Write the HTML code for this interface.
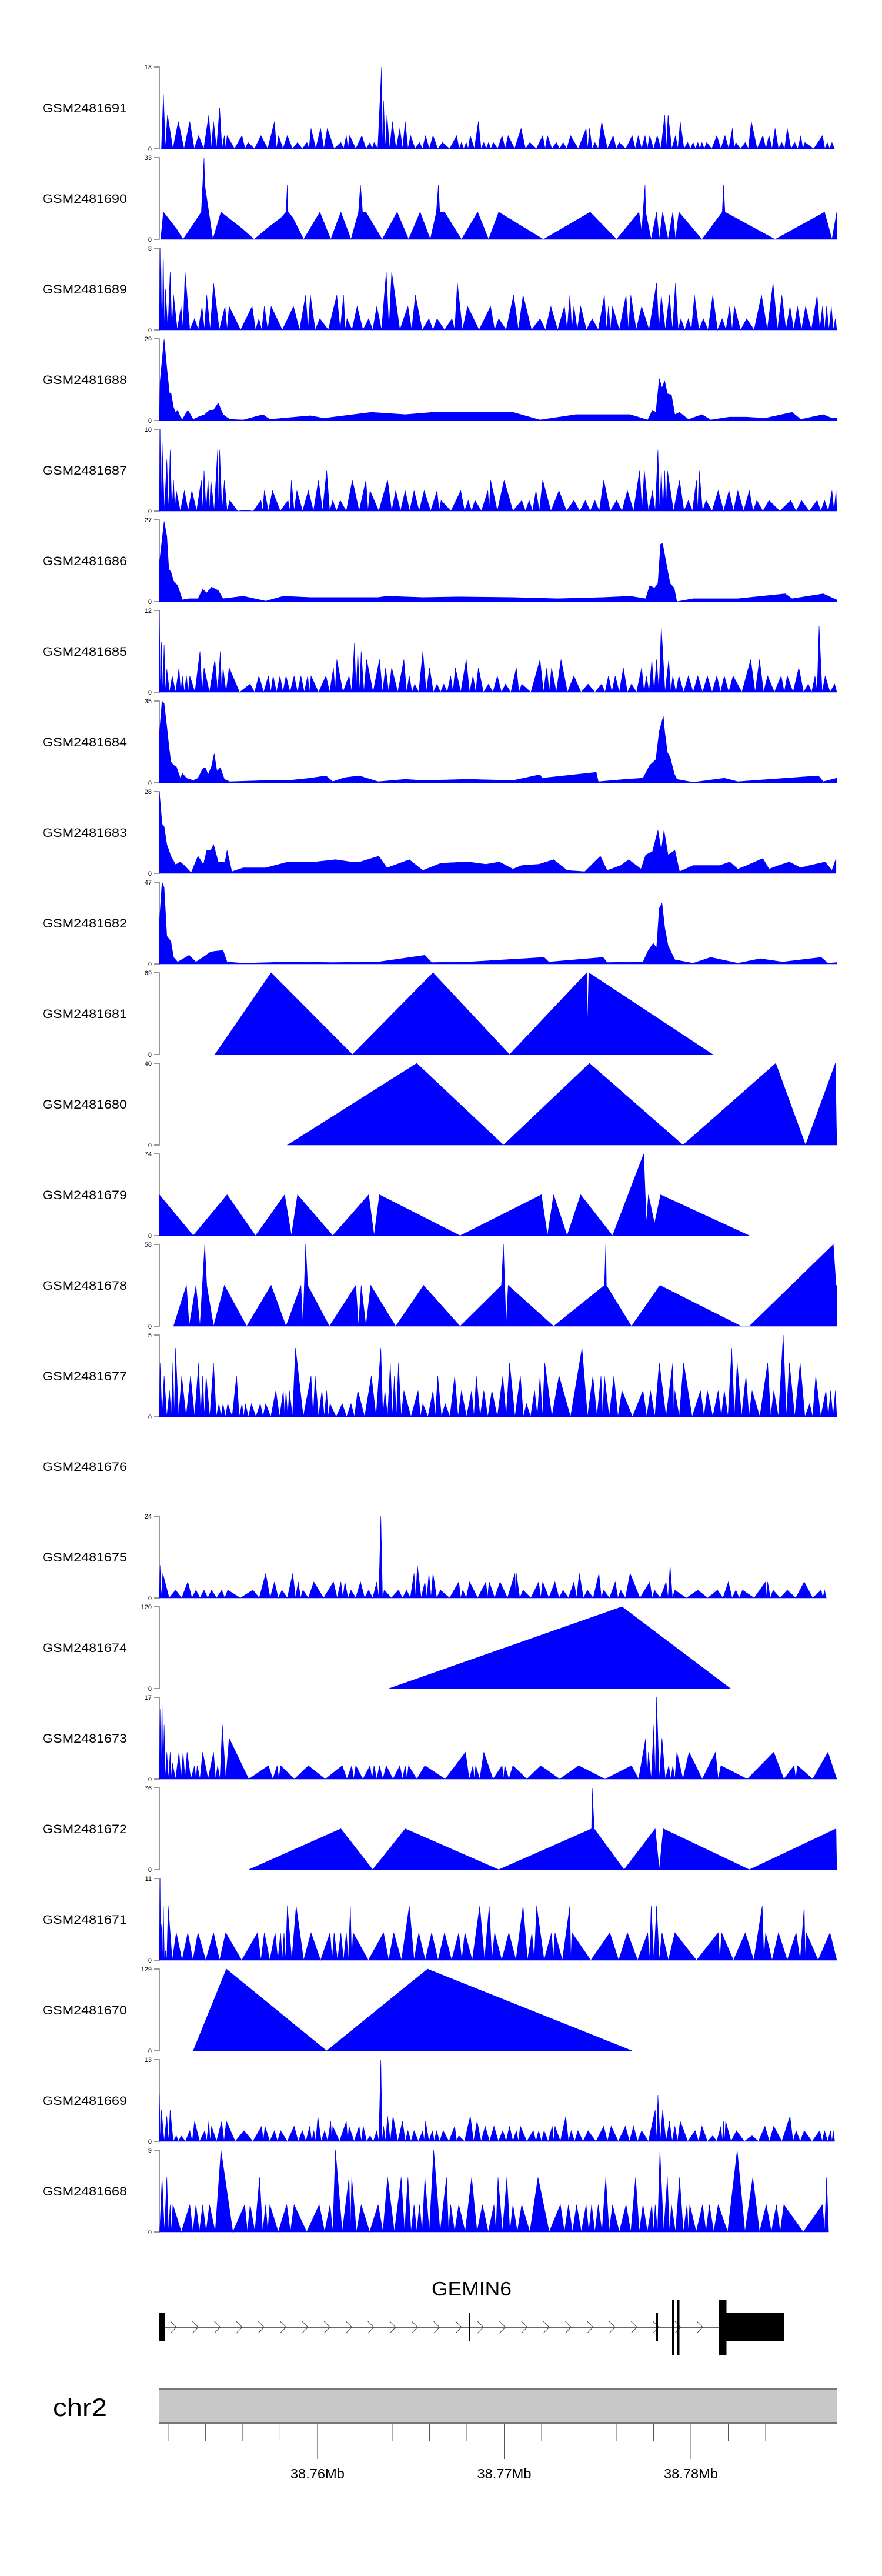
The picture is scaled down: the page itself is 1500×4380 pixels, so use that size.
<!DOCTYPE html>
<html><head><meta charset="utf-8">
<style>
html,body{margin:0;padding:0;background:#fff;}
svg{display:block;font-family:"Liberation Sans",sans-serif;}
</style></head>
<body>
<svg id="chart" width="1500" height="4380" viewBox="0 0 1500 4380" xmlns="http://www.w3.org/2000/svg">
<g id="tracks"></g>
<g id="gene">
  <text x="802" y="3903" text-anchor="middle" font-size="33" textLength="136" lengthAdjust="spacingAndGlyphs">GEMIN6</text>
  <line x1="276" y1="3957" x2="1225" y2="3957" stroke="#333" stroke-width="1.5"/>
  <g id="chevrons"></g>
  <rect x="271" y="3933" width="10" height="48" fill="#000"/>
  <rect x="797" y="3933" width="2.5" height="48" fill="#000"/>
  <rect x="1115" y="3933" width="4" height="48" fill="#000"/>
  <rect x="1143" y="3910" width="3.5" height="94" fill="#000"/>
  <rect x="1152" y="3910" width="3.5" height="94" fill="#000"/>
  <rect x="1223" y="3910" width="12.5" height="94" fill="#000"/>
  <rect x="1235" y="3933" width="99" height="48" fill="#000"/>
</g>
<g id="axis">
  <text x="90" y="4108" font-size="43" textLength="92" lengthAdjust="spacingAndGlyphs">chr2</text>
  <rect x="271" y="4062" width="1152" height="58" fill="#c8c8c8"/>
  <line x1="271" y1="4062" x2="1423" y2="4062" stroke="#777" stroke-width="2"/>
  <line x1="271" y1="4120" x2="1423" y2="4120" stroke="#777" stroke-width="2"/>
  <g id="xticks"></g>
</g>
</svg>
<script>
const NS = "http://www.w3.org/2000/svg";
const trackNames = ["GSM2481691","GSM2481690","GSM2481689","GSM2481688","GSM2481687","GSM2481686","GSM2481685","GSM2481684","GSM2481683","GSM2481682","GSM2481681","GSM2481680","GSM2481679","GSM2481678","GSM2481677","GSM2481676","GSM2481675","GSM2481674","GSM2481673","GSM2481672","GSM2481671","GSM2481670","GSM2481669","GSM2481668"];
const trackMax = [18,33,8,29,10,27,12,35,28,47,69,40,74,58,5,null,24,120,17,76,11,129,13,9];
const trackMode = ["spike","line","spike","line","spike","line","spike","line","line","line","line","line","line","line","spike","none","spike","line","spike","line","spike","line","spike","spike"];
// each series: [window position (% of 38.7515-38.7878 Mb), signal value]
const s1691 = [[0.6,12.1],[1.2,7.5],[2.8,6],[4.5,6],[5.8,2.9],[7.3,7.5],[8,6],[8.9,9],[9.6,2.9],[10,2.9],[12.2,2.9],[13.1,1.4],[15,2.9],[17,6],[17.6,2.9],[18.9,2.9],[20.4,1.4],[21.8,1.4],[22.4,4.5],[23.8,4.5],[24.8,4.5],[26.8,1.4],[27.6,2.9],[28.1,2.9],[29.9,2.9],[31.1,1.4],[31.7,1.4],[32.8,18],[33.1,10.5],[33.6,7.5],[34.4,6],[35.5,4.5],[36.3,6],[37.1,2.9],[38.4,1.4],[39.3,2.9],[40.4,2.9],[41.8,1.4],[43.9,2.9],[44.6,1.4],[45.3,1.4],[45.9,2.9],[47.1,6],[47.9,1.4],[48.6,1.4],[49.3,1.4],[50.6,2.9],[51.5,2.9],[53.4,4.5],[54.7,1.4],[56.6,2.9],[57.3,2.9],[58.6,1.4],[59.6,1.4],[60.7,2.9],[63,4.5],[63.5,4.5],[64.3,1.4],[65.3,6],[67,2.9],[67.9,1.4],[69.8,2.9],[70.7,2.9],[71.7,2.9],[72.4,2.9],[73.5,2.9],[74.6,7.5],[75.1,7.5],[76.2,2.9],[76.9,6],[78,1.4],[78.8,1.4],[79.5,1.4],[80.1,1.4],[80.8,1.4],[82.3,2.9],[83.5,2.9],[84.6,4.5],[85.1,1.4],[86.5,1.4],[87.4,6],[89.1,2.9],[90,2.9],[90.9,4.5],[91.9,1.4],[92.7,4.5],[93.8,1.4],[94.7,2.9],[95.3,1.4],[97.9,2.9],[98.6,1.4],[99.3,1.4]];
const s1690 = [[0.2,0],[0.6,11],[2.5,4.4],[3.5,0],[4.3,3.2],[6.2,11],[6.6,33],[6.7,22],[7.9,0],[9.1,11],[10.1,8.8],[12.2,4.4],[14,0],[15.9,4.4],[18,8.8],[18.7,11],[18.9,22],[19,11],[19.7,8.8],[21.3,0],[23.7,11],[25.3,0],[26.8,11],[28.3,0],[29.4,11],[29.7,22],[30,11],[30.5,11],[32.9,0],[35.1,11],[36.8,0],[38.5,11],[40,0],[40.9,11],[41.2,22],[41.4,11],[42.1,11],[44.6,0],[47,11],[48.6,0],[50.1,11],[56.7,0],[63.6,11],[67.5,0],[70.8,11],[71.2,3.2],[71.7,22],[71.8,11],[72.6,0],[73.4,11],[73.8,0],[74.3,11],[75.1,0],[75.8,11],[76.2,0],[76.7,11],[80.1,0],[83.1,11],[83.3,22],[83.5,11],[90.9,0],[98.2,11],[99.3,0],[100,11]];
const s1689 = [[0.1,8],[0.4,7.9],[0.6,6.9],[0.9,4],[1.6,5.7],[2.1,3.4],[3.2,2.3],[3.8,5.7],[5.2,1.1],[6.3,2.3],[7,3.4],[8,4.6],[9.7,2.3],[10.3,2.3],[13.7,2.3],[14.7,1.1],[15.5,2.3],[16.5,2.3],[19.8,2.3],[21.6,3.4],[22.3,3.4],[23.7,1.1],[26.2,3.4],[27.2,3.4],[27.7,1.1],[29.2,2.3],[30.9,1.1],[32.1,2.3],[33.5,5.7],[34.3,5.7],[36.7,2.3],[37.8,3.4],[39.8,1.1],[41,1.1],[43.2,1.1],[44,4.6],[45.5,2.3],[48.9,2.3],[50.1,1.1],[52.3,3.4],[53.7,3.4],[56.2,1.1],[57.8,2.3],[59.8,2.3],[60.6,3.4],[61.2,2.3],[62.2,2.3],[63.9,1.1],[65.7,3.4],[66.3,2.3],[66.9,2.3],[68.9,3.4],[69.6,3.4],[71.2,2.3],[73.4,4.6],[74.1,3.4],[75.3,3.4],[76.2,4.6],[77,1.1],[78.1,1.1],[79,3.4],[80.3,1.1],[81.7,3.4],[83.1,1.1],[84.2,2.3],[84.9,2.3],[86.7,1.1],[88.9,3.4],[90.6,4.6],[91.9,3.4],[93.1,2.3],[94.2,2.3],[95.4,2.3],[97.1,3.4],[97.9,2.3],[98.5,2.3],[99.2,2.3],[99.8,1.1]];
const s1688 = [[0,0],[0.1,13.7],[0.7,29],[1.1,18.6],[1.5,9.5],[1.7,9.9],[2.1,4.6],[2.4,2.9],[2.7,3.7],[3.1,1.2],[3.4,0.4],[4.2,3.7],[5,0.4],[5.7,1.2],[6.7,2.1],[7.4,3.7],[8,3.7],[8.7,6.2],[9.4,2.1],[10.4,0.4],[12.4,0.2],[15.3,2.1],[16.3,0.4],[22.3,1.7],[24.3,0.8],[31.3,2.9],[36.3,2.1],[40.4,2.9],[52.2,2.9],[56.2,0.2],[61.5,2.1],[65.5,2.1],[69.5,2.1],[72.1,0.2],[72.8,3.7],[73.3,2.9],[73.8,14.9],[74.2,11.6],[74.6,14.1],[75,9.5],[75.6,9.1],[76.1,2.1],[76.8,2.9],[78.1,0.4],[80.1,2.1],[81.4,0.2],[84.1,1.2],[86.7,1.2],[89.4,0.8],[93.4,2.9],[94.7,0.4],[98,2.1],[99.3,0.8],[100,0.8]];
const s1687 = [[0.1,10],[0.4,8.8],[1.1,6.3],[1.6,7.5],[2.1,3.8],[2.5,2.5],[3.7,2.5],[4.8,2.5],[6.2,3.8],[6.6,5],[7.2,3.8],[7.6,3.8],[8.6,7.5],[8.9,7.5],[9.6,3.8],[10.4,1.3],[12.7,0.1],[15,1.3],[15.5,2.5],[16.7,2.5],[19,1.3],[19.5,3.8],[20.3,2.5],[22,2.5],[23.5,3.8],[24.7,5],[25.6,1.3],[26.7,1.3],[28.5,3.8],[30.5,3.8],[31.1,2.5],[33.7,3.8],[34.9,2.5],[36.3,2.5],[37.6,2.5],[39.1,2.5],[41,2.5],[41.6,1.3],[44.5,2.5],[45.6,1.3],[46.6,1.3],[48.5,2.5],[48.9,3.8],[50.9,3.8],[53.5,1.3],[54.6,1.3],[55.6,2.5],[56.6,3.8],[59,2.5],[61.2,1.3],[62.9,1.3],[64.3,1.3],[65.6,3.8],[67.5,1.3],[69.1,2.5],[70.9,5],[71.6,5],[72.8,2.5],[73.6,7.5],[74.1,5],[74.6,5],[75,5],[76.8,3.8],[78.1,1.3],[79.3,3.8],[79.7,5],[80.7,1.3],[82.5,2.5],[84.1,2.5],[85.4,2.5],[87.1,2.5],[88.2,1.3],[90,1.3],[93.2,1.3],[94.8,1.3],[97.1,1.3],[98.2,1.3],[99.3,2.5],[99.9,2.5]];
const s1686 = [[0,12.7],[0.4,20.4],[0.7,26.5],[1.1,21.6],[1.4,10.7],[1.7,9.9],[2.1,6.8],[2.7,5.3],[3.4,0.6],[4.4,1],[5.7,1],[6.4,4.1],[7,2.9],[7.7,4.8],[8.7,3.7],[9.4,1],[12.4,1.8],[15.7,0.2],[18.3,1.8],[22.3,1.4],[32.3,1.4],[33.6,1.8],[38.9,1.4],[44.2,1.6],[52.2,1.4],[58.8,1],[65.5,1.4],[69.5,1.8],[71.8,1],[72.4,5.3],[73.1,4.5],[73.6,6],[74,19],[74.3,19.2],[74.8,13],[75.4,6],[76,4.5],[76.4,0],[78.8,1],[85.4,1],[92.4,2.6],[93.4,1],[98,2.6],[100,0.6]];
const s1685 = [[0,12],[0.3,7.4],[0.7,7],[1.1,3.4],[1.9,2.4],[2.9,3.6],[3.4,2.4],[4,2.4],[4.5,2.4],[6,6],[6.6,3.6],[8.2,4.8],[9,6],[9.4,3.6],[10.3,3.6],[13.4,1.2],[14.7,2.4],[16.1,2.4],[16.8,2.4],[17.8,2.4],[18.7,2.4],[19.9,2.4],[20.9,2.4],[21.9,2.4],[22.4,2.4],[24.6,2.4],[25.7,3.6],[26.2,4.8],[28,2.4],[28.8,7.2],[29.3,6],[29.8,6],[30.6,4.8],[32.5,4.8],[33.4,3.6],[34.3,3.6],[36.1,4.8],[36.9,2.4],[37.7,1.2],[38.9,6],[39.9,3.6],[41,1.2],[42,1.2],[43,2.4],[43.7,3.6],[45.3,4.8],[46.3,2.4],[47.1,3.6],[48.6,1.2],[49.9,2.4],[51.1,1.2],[52.7,3.6],[53.5,1.2],[56.2,4.8],[57.2,3.6],[57.9,3.6],[59.3,4.8],[61.2,2.4],[63.3,1.2],[65.3,1.2],[66.3,2.4],[67.3,2.4],[68.5,3.6],[69.7,1.2],[71.2,3.6],[71.9,2.4],[72.7,4.8],[73.4,4.8],[74.1,9.7],[75.2,4.8],[75.8,2.4],[76.7,2.4],[78.1,2.4],[79.5,2.4],[80.9,2.4],[82.3,2.4],[83.4,2.4],[84.7,2.4],[87.3,4.8],[88.6,4.8],[89.8,2.4],[91.8,2.4],[92.7,2.4],[94.4,3.6],[95.8,1.2],[96.8,2.4],[97.4,9.7],[98.3,2.4],[99.7,1.2]];
const s1684 = [[0,21],[0.4,35],[0.7,34],[1.1,24],[1.4,16],[1.7,9],[2.1,7.5],[2.5,7],[3.1,2],[3.4,4],[4,2],[5,1],[5.7,2],[6.4,6],[6.8,6.5],[7.2,3.5],[7.7,7],[8.1,12.5],[8.5,5],[9,6.5],[9.6,1.5],[10.4,0.5],[15.7,1],[19,1],[22.3,2],[24.6,3],[25.6,0.5],[27.3,2.2],[29.5,3],[32.3,0.5],[36.3,1.5],[38.9,1],[45.6,1.5],[52.2,1],[56.2,3.5],[56.5,2],[64.5,4.5],[64.8,0.5],[68.8,1.5],[71.4,2],[72.4,7.5],[73.3,10],[73.8,22],[74.4,28.5],[74.6,22],[75,13],[75.4,11],[76,4],[76.4,1.5],[78.8,0.2],[83.4,2],[85.4,0.5],[97.3,3],[98,0.5],[100,2]];
const s1683 = [[0,28],[0.4,16.9],[0.7,16],[1.1,9.9],[1.7,5.9],[2.4,3],[3.1,3.9],[3.7,2.7],[4.7,0.2],[5.7,5.9],[6.5,3],[7,7.9],[7.6,7.9],[8,9.9],[8.7,3.9],[9.7,3.9],[10,7.9],[10.7,0.6],[12.4,1.9],[15.7,1.9],[19,3.9],[23,3.9],[26,4.7],[28.3,3.9],[29.6,3.9],[32.4,5.9],[33.6,1.9],[36.9,4.7],[38.9,1],[41.6,3.5],[45.6,3.9],[48.2,3.1],[50.2,3.9],[52.2,1.5],[53.5,2.7],[56,3.1],[58.2,4.7],[60.2,1],[62.8,0.6],[65.1,5.9],[66.1,1],[68.1,2.7],[69.3,4.7],[71.1,1.5],[71.8,6.3],[72.8,7.5],[73.6,14.8],[74.1,7.9],[74.5,14.8],[75.1,6.3],[76.1,7.9],[76.8,0.6],[78.8,2.7],[80.7,2.7],[82.7,2.7],[84.2,3.9],[85.4,1.5],[86.7,2.7],[89.1,5.1],[90,1.5],[91.4,2.7],[93,3.9],[94.7,1.9],[96,2.7],[98.3,3.9],[99.3,1],[99.9,5.1]];
const s1682 = [[0,24],[0.4,47],[0.7,44],[1.1,16],[1.7,13],[2.1,3.8],[2.7,1.1],[4.4,5],[5.4,1.1],[6.7,4.5],[7.4,6.5],[8,7.2],[9.4,7.8],[10,1.1],[12.4,0.4],[19,1.1],[25.6,0.8],[32.3,1.1],[39.2,5],[40.2,0.8],[45.6,1.1],[56.8,3.8],[57.5,1.1],[65.5,3.8],[66.1,0.8],[71.4,1.1],[72.1,7.2],[72.9,11.9],[73.4,9.2],[73.8,32],[74.2,35],[74.6,21],[75.1,10.5],[76.1,2.4],[78.8,0.4],[81.4,3.8],[85.4,0.4],[88.7,3],[92,1.1],[97.7,3.8],[98.7,0.4],[100,0.8]];
const s1681 = [[8.2,0],[16.5,69],[28.5,0],[40.4,69],[51.7,0],[63.1,69],[63.2,24],[63.4,69],[81.7,0]];
const s1680 = [[18.9,0],[38,40],[50.8,0],[63.5,40],[77.3,0],[91,40],[95.4,0],[99.8,40],[100,0]];
const s1679 = [[0,37],[5,0],[10,37],[14.2,0],[18.5,37],[19.5,0],[20.4,37],[25.6,0],[30.9,37],[31.7,0],[32.5,37],[44.4,0],[56.4,37],[57.3,0],[58.2,37],[60.2,0],[62.2,37],[66.9,0],[71.5,74],[71.9,11],[72.2,37],[73.1,11],[74,37],[87.1,0]];
const s1678 = [[2.1,0],[4,29],[4.4,0],[5.4,29],[6,0],[6.7,58],[7,29],[8,0],[9.6,29],[12.9,0],[16.5,29],[18.7,0],[20.9,29],[21.2,0],[21.6,58],[21.9,29],[25.1,0],[29,29],[29.4,0],[29.8,29],[30.5,0],[31.2,29],[34.9,0],[39,29],[44.4,0],[50.5,29],[50.8,58],[51.2,0],[51.5,29],[58.2,0],[65.7,29],[65.9,58],[66,29],[69.7,0],[73.9,29],[85.9,0],[87.1,0],[99.5,58],[99.9,29],[100,29]];
const s1677 = [[0.1,3.3],[0.7,2.5],[1.5,1.6],[2,3.3],[2.4,4.2],[3.3,2.5],[4.6,2.5],[5.8,3.3],[6.4,2.5],[6.9,2.5],[8,3.3],[8.8,0.8],[9.4,0.8],[10.1,0.8],[11.4,2.5],[12.2,0.8],[12.7,0.8],[13.6,0.8],[14.9,0.8],[15.7,0.8],[17.2,1.6],[18.3,1.6],[18.7,1.6],[19.2,1.6],[20.1,4.2],[22.4,2.5],[23,2.5],[24,1.6],[24.7,1.6],[25.2,0.8],[27,0.8],[28.3,0.8],[29.3,1.6],[31.3,2.5],[32.7,4.2],[33.3,1.6],[34.1,3.3],[34.7,2.5],[35.3,3.3],[36.1,1.6],[38.2,1.6],[38.9,0.8],[40.4,1.6],[41.1,2.5],[42.2,0.8],[43.6,2.5],[44.6,1.6],[46.1,1.6],[46.8,2.5],[47.9,1.6],[49.1,1.6],[50.7,2.5],[51.7,3.3],[53.3,2.5],[54.2,0.8],[55.4,1.6],[56.2,2.5],[56.9,3.3],[59,2.5],[62.4,4.2],[64,2.5],[65.2,2.5],[65.7,2.5],[67.1,2.5],[68.3,1.6],[71.4,1.6],[72.5,1.6],[73.8,3.3],[75.8,3.3],[76.1,1.6],[77.4,3.3],[79.9,1.6],[80.9,1.6],[82.5,1.6],[83.4,1.6],[84.5,4.2],[85.3,3.3],[86.6,2.5],[87.5,1.6],[89.8,3.3],[90.7,1.6],[92.1,5],[93,3.3],[94.6,3.3],[96,0.8],[96.9,2.5],[98.4,1.6],[99.1,1.6],[99.8,1.6]];
const s1676 = [];
const s1675 = [[0.1,9.6],[0.5,7.2],[2.4,2.3],[4.2,4.7],[5.4,2.3],[6.6,2.3],[7.7,2.3],[9.2,2.3],[10.1,2.3],[13.8,2.3],[15.7,7.2],[17,4.7],[18.1,2.3],[19.7,7.2],[20.5,4.7],[21.2,2.3],[22.8,4.7],[25.7,4.7],[26.8,4.7],[27.4,4.7],[28.3,2.3],[29.7,4.7],[30.9,2.3],[32.1,4.7],[32.7,24],[33.2,2.3],[35.3,2.3],[36.5,2.3],[37.6,7.2],[38.1,9.6],[39.2,4.7],[39.8,7.2],[40.4,7.2],[41.5,2.3],[44.2,4.7],[44.8,2.3],[45.8,4.7],[48.2,4.7],[48.7,4.7],[50.3,4.7],[52.5,7.2],[52.7,7.2],[53.7,2.3],[56,4.7],[56.6,4.7],[58.4,4.7],[59.6,2.3],[61.2,4.7],[62,7.2],[63.2,2.3],[64.9,7.2],[65.6,2.3],[67.3,4.7],[68.1,2.3],[69.5,7.2],[72.4,4.7],[73.1,2.3],[74.8,4.7],[75.4,9.6],[76.1,2.3],[79.5,2.3],[82.4,2.3],[84,4.7],[85.1,2.3],[86.1,2.3],[89.5,4.7],[89.8,4.7],[90.6,2.3],[92.7,2.3],[95.2,4.7],[97.7,2.3],[98.2,2.3]];
const s1674 = [[33.9,0],[68.3,120],[84.3,0]];
const s1673 = [[0.1,14.5],[0.4,17],[0.7,11.3],[1.1,5.6],[1.6,5.6],[1.9,3.5],[2.9,5.6],[3.5,5.6],[4.1,5.6],[5.2,2.8],[5.6,2.8],[6.4,5.6],[8,5.6],[8.6,2.8],[9.3,11.3],[10.3,8.5],[16.1,2.8],[17.4,2.8],[17.9,2.8],[22,2.8],[27,2.8],[28.4,2.8],[29,2.8],[31.1,2.8],[31.7,2.8],[32.5,2.8],[33.5,2.8],[35.5,2.8],[36.3,2.8],[36.8,2.8],[39.2,2.8],[45.2,5.6],[46.3,2.8],[46.7,2.8],[47.9,5.6],[50.6,2.8],[51,2.8],[52.2,2.8],[56.3,2.8],[61.9,2.8],[69.7,2.8],[71.8,8.5],[72.2,5.6],[73,11.3],[73.4,17],[74.2,8.5],[75.2,2.8],[75.8,2.8],[76.4,5.6],[78.2,5.6],[82.1,5.6],[82.9,2.8],[90.7,5.6],[93.7,2.8],[94.2,2.8],[98.7,5.6]];
const s1672 = [[13.2,0],[26.8,38],[31.5,0],[36.3,38],[50.1,0],[63.8,38],[63.9,76],[64.2,38],[68.6,0],[73.2,38],[73.8,0],[74.4,38],[87.1,0],[99.9,38],[100,0]];
const s1671 = [[0.1,11],[0.3,4.8],[0.6,7.3],[0.9,1.3],[1.3,7.3],[2.5,3.7],[4.2,3.7],[5.7,3.7],[8,3.7],[9.8,3.7],[14.5,3.7],[15.5,3.7],[17.1,3.7],[17.9,3.7],[18.4,3.7],[18.9,7.3],[20.2,7.3],[22.4,3.7],[25.2,3.7],[25.8,3.7],[26.8,3.7],[27.6,3.7],[28.2,7.3],[28.6,3.7],[33.1,3.7],[34.6,3.7],[36.9,7.3],[38.3,3.7],[40.2,3.7],[42.1,3.7],[44.2,3.7],[45.1,3.7],[47.3,7.3],[48.7,7.3],[49.5,3.7],[51.6,3.7],[53.7,7.3],[55,3.7],[55.7,7.3],[57.9,3.7],[58.4,3.7],[60.6,7.3],[60.9,3.7],[66.5,3.7],[69.1,3.7],[72.1,3.7],[72.6,7.3],[73.4,7.3],[74.2,3.7],[76.1,3.7],[82.5,3.7],[83,3.7],[86.5,3.7],[89,7.3],[89.5,3.7],[91.4,3.7],[94,3.7],[95.2,7.3],[95.5,3.7],[99,3.7]];
const s1670 = [[5,0],[9.9,129],[24.7,0],[39.6,129],[69.8,0]];
const s1669 = [[0,7.5],[0.3,5],[1.1,4],[1.6,5],[2.5,0.9],[3.2,0.9],[4.5,1.7],[5.2,3.2],[6.7,1.7],[7.3,3.2],[7.7,2.4],[9.2,3.2],[9.9,3.2],[12.5,1.7],[15.1,2.4],[15.6,2.4],[17,1.7],[17.9,1.7],[19.9,2.4],[21.1,1.7],[22.2,2.4],[22.8,1.7],[23.4,4],[24.4,1.7],[25.3,3.2],[25.6,2.4],[27.6,3.2],[28,2.4],[29.5,2.4],[30.1,2.4],[31.1,0.9],[32.1,1.7],[32.7,13],[33.1,2.4],[33.7,4],[34.5,4],[35.9,3.2],[36.7,1.7],[37.6,1.7],[38.9,1.7],[39.3,3.2],[40.3,1.7],[40.9,1.7],[41.9,1.7],[43.6,2.4],[44.2,0.9],[45.9,4],[46.9,3.2],[48.1,2.4],[49.4,2.4],[50.7,1.7],[51.7,2.4],[52.7,1.7],[53.3,2.4],[55.2,1.7],[56,1.7],[56.8,1.7],[58,2.4],[58.4,2.4],[60,4],[60.8,1.7],[61.8,1.7],[63.3,1.7],[65.6,2.4],[66.7,2.4],[68.8,2.4],[70,2.4],[71.2,1.7],[73.2,5],[73.6,7.3],[74.3,5],[75.3,3.2],[76.1,2.4],[76.9,3.2],[79.1,1.7],[80.1,2.4],[81.7,0.9],[82.9,2.4],[83.3,3.2],[83.6,3.2],[85.2,1.7],[87.5,0.9],[89.4,2.4],[90.7,2.4],[93.1,4],[94,1.7],[95.2,1.7],[97.5,1.7],[98.2,1.7],[99.1,1.7],[99.5,1.7]];
const s1668 = [[0.4,6],[1.1,6],[1.6,3],[2,3],[4.5,3],[5.4,3],[6.4,3],[7.4,3],[9.1,9],[12.6,3],[13.4,3],[14.8,6],[15.7,3],[16.3,3],[18.8,3],[19.9,3],[23.6,3],[25.2,3],[26,9],[28,6],[28.4,6],[29.8,3],[32.3,3],[33.7,6],[35.7,6],[36.7,6],[37.6,3],[38.4,3],[39.2,6],[40.5,9],[42.4,6],[43,3],[44.2,3],[46.1,6],[47.7,3],[49.4,3],[50,6],[51.3,6],[52.2,3],[53.5,3],[55.9,6],[59.2,3],[60.4,3],[61.6,3],[63,3],[63.8,3],[64.8,3],[65.9,6],[66.9,3],[68.9,3],[70.3,6],[71.4,3],[72.7,3],[73.2,3],[73.9,9],[75,6],[75.6,3],[76.8,6],[77.9,3],[78.3,3],[80.2,3],[81.2,3],[82.5,3],[85.3,9],[87.6,6],[89.6,3],[91.1,3],[92.2,3],[97.9,3],[98.5,6]];
const series = [s1691,s1690,s1689,s1688,s1687,s1686,s1685,s1684,s1683,s1682,s1681,s1680,s1679,s1678,s1677,s1676,s1675,s1674,s1673,s1672,s1671,s1670,s1669,s1668];
const xTicksMb = [38.752,38.754,38.756,38.758,38.76,38.762,38.764,38.766,38.768,38.77,38.772,38.774,38.776,38.778,38.78,38.782,38.784,38.786];
const xTickLabels = {"38.76":"38.76Mb","38.77":"38.77Mb","38.78":"38.78Mb"};

const PL = 271, PR = 1423, TOP0 = 114, PITCH = 154, PH = 139;
const MB0 = 38.75153, MB1 = 38.78781;
function xPct(p){ return PL + (PR - PL) * p / 100; }
function xMb(m){ return PL + (PR - PL) * (m - MB0) / (MB1 - MB0); }
function yVal(v, max, top){ return top + PH - PH * v / max; }
function mk(tag, attrs){ const e = document.createElementNS(NS, tag); for (const k in attrs) e.setAttribute(k, attrs[k]); return e; }

const tg = document.getElementById('tracks');
trackNames.forEach((name, i) => {
  const top = TOP0 + PITCH * i, base = top + PH;
  const g = mk('g', {});
  
  
  tg.appendChild(g);
  const lab = mk('text', {x: 72, y: top + 77, 'font-size': 21, textLength: 144, lengthAdjust: 'spacingAndGlyphs'});
  lab.textContent = name;
  
  
  g.appendChild(lab);
  const max = trackMax[i];
  if (max === null) return;
  const ax = mk('path', {d: `M262,${top} H271 V${base} H262`, fill: 'none', stroke: '#777', 'stroke-width': 1.5});
  
  
  g.appendChild(ax);
  const tMax = mk('text', {x: 258, y: top + 4, 'font-size': 11, 'text-anchor': 'end'});
  tMax.textContent = String(max);
  
  
  g.appendChild(tMax);
  const tMin = mk('text', {x: 258, y: base + 4, 'font-size': 11, 'text-anchor': 'end'});
  tMin.textContent = '0';
  
  
  g.appendChild(tMin);
  const s = series[i];
  if (!s.length) return;
  let pts = [];
  if (trackMode[i] === 'spike') {
    const first = s[0][0] - (s.length > 1 ? (s[1][0] - s[0][0]) / 2 : 0.3);
    pts.push([Math.max(0, first), 0]);
    for (let k = 0; k < s.length; k++) {
      pts.push(s[k]);
      if (k < s.length - 1) pts.push([(s[k][0] + s[k + 1][0]) / 2, 0]);
    }
    const n = s.length;
    const last = s[n - 1][0] + (n > 1 ? (s[n - 1][0] - s[n - 2][0]) / 2 : 0.3);
    pts.push([Math.min(100, last), 0]);
  } else {
    pts = s.slice();
  }
  let d = `M${xPct(pts[0][0]).toFixed(1)},${base}`;
  pts.forEach(p => { d += ` L${xPct(p[0]).toFixed(1)},${yVal(p[1], max, top).toFixed(1)}`; });
  d += ` L${xPct(pts[pts.length - 1][0]).toFixed(1)},${base} Z`;
  const area = mk('path', {d: d, fill: '#0000ff', stroke: '#0000ff', 'stroke-width': 0.6});
  
  
  g.appendChild(area);
});

// strand chevrons
const cg = document.getElementById('chevrons');
for (let x = 290; x < 1220; x += 37.3) {
  const c = mk('path', {d: `M${x.toFixed(1)},3947 L${(x + 10).toFixed(1)},3957 L${x.toFixed(1)},3967`, fill: 'none', stroke: '#444', 'stroke-width': 1});
  
  
  cg.appendChild(c);
}

// x axis ticks
const xg = document.getElementById('xticks');
xTicksMb.forEach(m => {
  const x = xMb(m);
  const key = m.toFixed(2);
  const major = Math.abs(m - Number(key)) < 1e-9 && xTickLabels[key];
  const t = mk('line', {x1: x.toFixed(1), y1: 4121, x2: x.toFixed(1), y2: major ? 4181 : 4151, stroke: '#555', 'stroke-width': 1});
  
  
  xg.appendChild(t);
  if (major) {
    const l = mk('text', {x: x.toFixed(1), y: 4214, 'font-size': 23, 'text-anchor': 'middle', textLength: 92, lengthAdjust: 'spacingAndGlyphs'});
    l.textContent = xTickLabels[key];
    
    
    xg.appendChild(l);
  }
});
</script>
</body></html>
